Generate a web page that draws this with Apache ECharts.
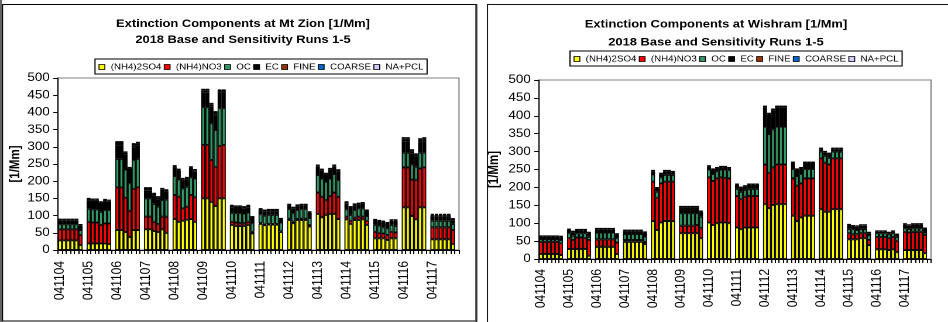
<!DOCTYPE html>
<html>
<head>
<meta charset="utf-8">
<script src="https://cdn.jsdelivr.net/npm/echarts@6/dist/echarts.min.js"></script>
<style>
  html, body { margin: 0; padding: 0; background: #fff; overflow: hidden; }
  #wrap { position: absolute; left: 0; top: 0; width: 810px; height: 322px;
          transform: scaleX(1.17037); transform-origin: 0 0; }
  #chart { width: 810px; height: 322px; }
</style>
</head>
<body>
<div id="wrap"><div id="chart"></div></div>
<script>
// Sampling days (YYMMDD); each day has the base case plus sensitivity runs 1-5
const dates = ['041104','041105','041106','041107','041108','041109','041110',
               '041111','041112','041113','041114','041115','041116','041117'];
const names = ['(NH4)2SO4','(NH4)NO3','OC','EC','FINE','COARSE','NA+PCL'];
const colors = ['#FFFF00','#FF0000','#339966','#000000','#993300','#0066CC','#CCCCFF'];
const yTicks = { min: 0, max: 500, step: 50 };

// ---- Mt Zion, extinction by component [1/Mm], 6 runs per day ----
const zionSO4 = [
  28,28,28,28,28,14,  19,19,19,19,19,17,  58,58,52,38,58,58,  60,60,55,52,60,50,
  90,82,85,88,90,82,  150,150,140,128,150,150,  73,70,70,70,73,48,  76,72,74,74,74,52,
  87,78,87,87,87,68,  105,95,102,105,105,90,  89,76,87,87,89,73,  34,34,34,29,34,34,
  124,124,99,89,124,124,  31,31,31,31,31,17];
const zionNO3 = [
  32,32,32,32,32,30,  63,61,61,54,58,60,  124,124,100,76,120,124,  37,37,27,23,37,47,
  70,73,36,38,70,71,  155,155,122,114,152,155,  9,10,8,8,9,5,  2,2,2,2,2,2,
  4,4,3,4,4,5,  62,60,43,52,62,65,  8,9,7,10,8,12,  19,16,14,15,19,17,
  116,116,106,114,113,116,  35,35,35,35,35,41];
const zionOC = [
  15,15,15,15,15,14,  38,38,38,38,39,39,  83,83,82,80,83,83,  53,53,52,51,48,50,
  55,50,58,58,51,55,  110,110,106,107,110,107,  26,27,29,28,27,25,  26,26,26,26,26,26,
  28,25,26,28,28,20,  51,53,54,51,54,48,  21,17,22,24,24,14,  20,21,18,19,20,19,
  43,43,44,39,46,43,  19,19,19,19,19,18];
const zionEC = [
  10,10,10,10,10,13,  25,25,25,24,26,24,  40,40,44,40,38,40,  22,22,25,22,25,22,
  25,25,24,22,26,21,  42,42,48,43,43,43,  16,15,15,14,15,15,  11,11,11,11,11,9,
  10,13,11,10,10,15,  24,22,20,25,21,26,  18,20,14,11,13,14,  13,12,15,14,12,15,
  32,32,32,29,29,32,  12,12,12,12,12,11];
const zionFINE = [
  3,3,3,3,3,2,  3,3,3,3,3,3,  6,6,5,4,6,5,  4,4,4,4,5,4,
  3,3,3,3,3,3,  6,6,6,6,6,6,  4,4,4,4,4,3,  4,4,4,4,4,2,
  3,3,3,3,3,2,  3,3,3,3,3,3,  3,3,3,3,3,2,  2,2,2,2,2,2,
  5,5,5,5,5,5,  4,4,4,4,4,3];
const zionCOARSE = [
  1.5,1.5,1.5,1.5,1.5,1,  2,2,2,2,2,2,  4,4,2,2,4,3,  5,5,2,3,4,2,
  2,2,2,2,2,2,  4,4,4,4,4,4,  2,2,2,2,2,1,  1,1,1,1,1,1,
  1,1,1,1,1,1,  2,2,1,1,2,1,  1,1,1,1,1,1,  1,1,1,1,1,1,
  3,3,3,2,3,3,  2,2,2,2,2,1];
const zionNAPCL = [
  0.5,0.5,0.5,0.5,0.5,0.5,  0.5,0.5,0.5,0.5,0.5,0.5,  0.5,0.5,0.5,0.5,0.5,0.5,  1,1,0.5,0.5,0.5,0.5,
  0.5,0.5,0.5,0.5,0.5,0.5,  1,1,1,1,1,1,  0.5,0.5,0.5,0.5,0.5,0.5,  0.5,0.5,0.5,0.5,0.5,0.5,
  0.5,0.5,0.5,0.5,0.5,0.5,  0.5,0.5,0.5,0.5,0.5,0.5,  0.5,0.5,0.5,0.5,0.5,0.5,  0.5,0.5,0.5,0.5,0.5,0.5,
  5,5,4,3,5,5,  2,2,2,2,2,1];

// ---- Wishram, extinction by component [1/Mm], 6 runs per day ----
const wishSO4 = [
  14,14,14,14,14,11,  28,28,28,28,28,9,  34,34,34,34,34,14,  48,48,48,48,48,42,
  106,81,102,106,106,106,  72,72,72,72,72,58,  102,95,100,102,102,100,  88,83,88,88,88,88,
  153,142,151,153,153,153,  121,106,116,121,121,121,  139,132,132,139,139,139,  55,55,55,58,58,39,
  27,27,27,25,27,19,  25,25,25,25,25,16];
const wishNO3 = [
  34,34,34,34,34,33,  30,25,32,32,30,44,  21,21,21,21,21,32,  5,5,5,5,5,6,
  110,90,109,110,110,110,  21,21,21,21,23,28,  126,123,125,126,124,125,  88,84,86,88,88,88,
  111,99,105,111,111,111,  104,99,95,104,104,104,  142,137,132,142,142,142,  17,14,14,14,14,14,
  34,34,34,33,34,32,  51,49,51,51,51,51];
const wishOC = [
  8,8,8,8,8,9,  14,12,12,12,14,9,  19,19,19,19,19,12,  17,17,17,17,17,15,
  20,17,17,19,19,19,  35,35,35,35,33,32,  22,19,20,22,24,23,  20,21,19,20,20,20,
  106,108,106,106,106,106,  26,27,26,26,26,26,  19,19,19,19,19,19,  12,14,12,12,12,14,
  11,11,11,11,11,11,  10,10,10,10,10,7];
const wishEC = [
  6,6,6,6,6,8,  9,10,8,8,8,10,  9,9,9,9,9,10,  8,8,8,8,8,10,
  9,9,9,10,10,7,  15,15,15,15,15,13,  8,12,8,6,6,5,  11,10,9,11,11,11,
  53,55,54,53,53,53,  17,17,16,17,17,17,  7,10,10,7,7,7,  10,8,9,9,9,5,
  4,4,4,3,4,5,  10,9,10,10,10,10];
const wishFINE = [
  2,2,2,2,2,2,  2,2,2,2,2,2,  2,2,2,2,2,2,  2,2,2,2,2,2,
  2,2,2,2,2,2,  3,3,3,3,3,2,  2,2,2,2,2,2,  2,2,2,2,2,2,
  3,2,2,3,3,3,  2,2,2,2,2,2,  2,2,2,2,2,2,  2,2,2,2,2,2,
  2,2,2,2,2,2,  2,2,2,2,2,2];
const wishCOARSE = [
  0.5,0.5,0.5,0.5,0.5,0.5,  0.5,0.5,0.5,0.5,0.5,0.5,  0.5,0.5,0.5,0.5,0.5,0.5,  0.5,0.5,0.5,0.5,0.5,0.5,
  0.5,0.5,0.5,0.5,0.5,0.5,  1,1,1,1,1,1,  0.5,0.5,0.5,0.5,0.5,0.5,  0.5,0.5,0.5,0.5,0.5,0.5,
  1,1,1,1,1,1,  0.5,0.5,0.5,0.5,0.5,0.5,  0.5,0.5,0.5,0.5,0.5,0.5,  0.5,0.5,0.5,0.5,0.5,0.5,
  0.5,0.5,0.5,0.5,0.5,0.5,  0.5,0.5,0.5,0.5,0.5,0.5];
const wishNAPCL = [
  0.5,0.5,0.5,0.5,0.5,0.5,  0.5,0.5,0.5,0.5,0.5,0.5,  0.5,0.5,0.5,0.5,0.5,0.5,  0.5,0.5,0.5,0.5,0.5,0.5,
  0.5,0.5,0.5,0.5,0.5,0.5,  0.5,0.5,0.5,0.5,0.5,0.5,  0.5,0.5,0.5,0.5,0.5,0.5,  0.5,0.5,0.5,0.5,0.5,0.5,
  0.5,0.5,0.5,0.5,0.5,0.5,  0.5,0.5,0.5,0.5,0.5,0.5,  0.5,0.5,0.5,0.5,0.5,0.5,  0.5,0.5,0.5,0.5,0.5,0.5,
  0.5,0.5,0.5,0.5,0.5,0.5,  0.5,0.5,0.5,0.5,0.5,0.5];

const zionSeries = [zionSO4, zionNO3, zionOC, zionEC, zionFINE, zionCOARSE, zionNAPCL];
const wishSeries = [wishSO4, wishNO3, wishOC, wishEC, wishFINE, wishCOARSE, wishNAPCL];

// ---- layout helpers ----
// The drawing is laid out on an 810px-wide canvas stretched to 948px; X() converts page x to canvas x.
const S = 948 / 810;
const X = v => v / S;
const RUNS = 6;
const FONT = 'Arial, "Liberation Sans", sans-serif';

// One category per run plus an empty slot after each day
const cats = [];
dates.forEach(d => { for (let k = 0; k <= RUNS; k++) cats.push(k === 0 ? d : d + '#' + k); });

function slotted(arr) {
  const out = [];
  for (let g = 0; g < dates.length; g++) {
    for (let k = 0; k < RUNS; k++) out.push(arr[g * RUNS + k]);
    out.push('-');
  }
  return out;
}

function makeAxes(idx, labelMargin, nameGap) {
  const x = {
    gridIndex: idx, type: 'category', data: cats, boundaryGap: true,
    axisLine: { lineStyle: { color: '#000', width: 1 } },
    axisTick: { show: true, interval: 0, length: 4, lineStyle: { color: '#000' } },
    axisLabel: {
      interval: 0, rotate: 90, margin: labelMargin, fontSize: 12, color: '#000', fontFamily: FONT,
      formatter: v => (v.indexOf('#') < 0 ? v : '')
    },
    splitLine: { show: false }
  };
  const y = {
    gridIndex: idx, type: 'value', min: yTicks.min, max: yTicks.max, interval: yTicks.step,
    name: '[1/Mm]', nameLocation: 'middle', nameRotate: 90, nameGap: nameGap,
    nameTextStyle: { fontSize: 11.5, fontWeight: 'bold', color: '#000', fontFamily: FONT },
    axisLine: { show: true, lineStyle: { color: '#000', width: 1 } },
    axisTick: { show: true, length: 4, lineStyle: { color: '#000' } },
    axisLabel: { fontSize: 11.5, color: '#000', margin: 7, fontFamily: FONT },
    splitLine: { show: false }
  };
  return [x, y];
}

const [zx, zy] = makeAxes(0, 11, 29);
const [wx, wy] = makeAxes(1, 10, 32);

function barSeries(list, idx, stack) {
  return list.map((arr, i) => ({
    name: names[i], type: 'bar', stack: stack,
    xAxisIndex: idx, yAxisIndex: idx,
    data: slotted(arr),
    barCategoryGap: '0%',
    itemStyle: { color: colors[i], borderColor: '#000', borderWidth: 0.9 },
    emphasis: { disabled: true }
  }));
}

function legendAt(left, top) {
  return {
    left: left, top: top, orient: 'horizontal',
    data: names, selectedMode: false, icon: 'rect',
    itemWidth: 5, itemHeight: 5, itemGap: 2,
    padding: [4, 3, 3, 3],
    backgroundColor: '#fff', borderColor: '#000', borderWidth: 1,
    itemStyle: { borderColor: '#000', borderWidth: 0.8 },
    textStyle: { fontSize: 8.3, color: '#000', fontFamily: FONT }
  };
}

function titleAt(text, cx, top) {
  return {
    text: text, left: cx, top: top, textAlign: 'center', padding: 0,
    textStyle: { fontSize: 11, fontWeight: 'bold', color: '#000', fontFamily: FONT, lineHeight: 14 }
  };
}

const chart = echarts.init(document.getElementById('chart'), null, { renderer: 'canvas', devicePixelRatio: 2 });

chart.setOption({
  animation: false,
  backgroundColor: '#fff',
  title: [
    titleAt('Extinction Components at Mt Zion [1/Mm]', X(243), 17),
    titleAt('2018 Base and Sensitivity Runs 1-5', X(243), 33),
    titleAt('Extinction Components at Wishram [1/Mm]', X(716), 17.5),
    titleAt('2018 Base and Sensitivity Runs 1-5', X(716), 35.5)
  ],
  legend: [legendAt(X(95), 59), legendAt(X(570), 51)],
  grid: [
    { left: X(58), width: X(459) - X(58), top: 78, height: 172, containLabel: false, outerBoundsMode: 'none',
      show: true, borderColor: '#808080', borderWidth: 1, backgroundColor: '#fff' },
    { left: X(539), width: X(931) - X(539), top: 80, height: 179, containLabel: false, outerBoundsMode: 'none',
      show: true, borderColor: '#808080', borderWidth: 1, backgroundColor: '#fff' }
  ],
  xAxis: [zx, wx],
  yAxis: [zy, wy],
  series: barSeries(zionSeries, 0, 'zion').concat(barSeries(wishSeries, 1, 'wish')),
  graphic: [
    { type: 'rect', silent: true, shape: { x: 0, y: 0, width: X(2), height: 322 }, style: { fill: '#666' } },
    { type: 'rect', silent: true, shape: { x: X(2.5), y: 4.5, width: X(476) - X(2.5), height: 316.5 },
      style: { fill: 'none', stroke: '#000', lineWidth: 1 } },
    { type: 'line', silent: true, shape: { x1: X(476.5), y1: 4, x2: X(476.5), y2: 322 },
      style: { stroke: '#333', lineWidth: 1.4 } },
    { type: 'line', silent: true, shape: { x1: X(487.5), y1: 4.5, x2: X(487.5), y2: 322 },
      style: { stroke: '#111', lineWidth: 1 } },
    { type: 'line', silent: true, shape: { x1: X(487), y1: 4.5, x2: X(948), y2: 4.5 },
      style: { stroke: '#111', lineWidth: 1 } }
  ]
});
</script>
</body>
</html>
